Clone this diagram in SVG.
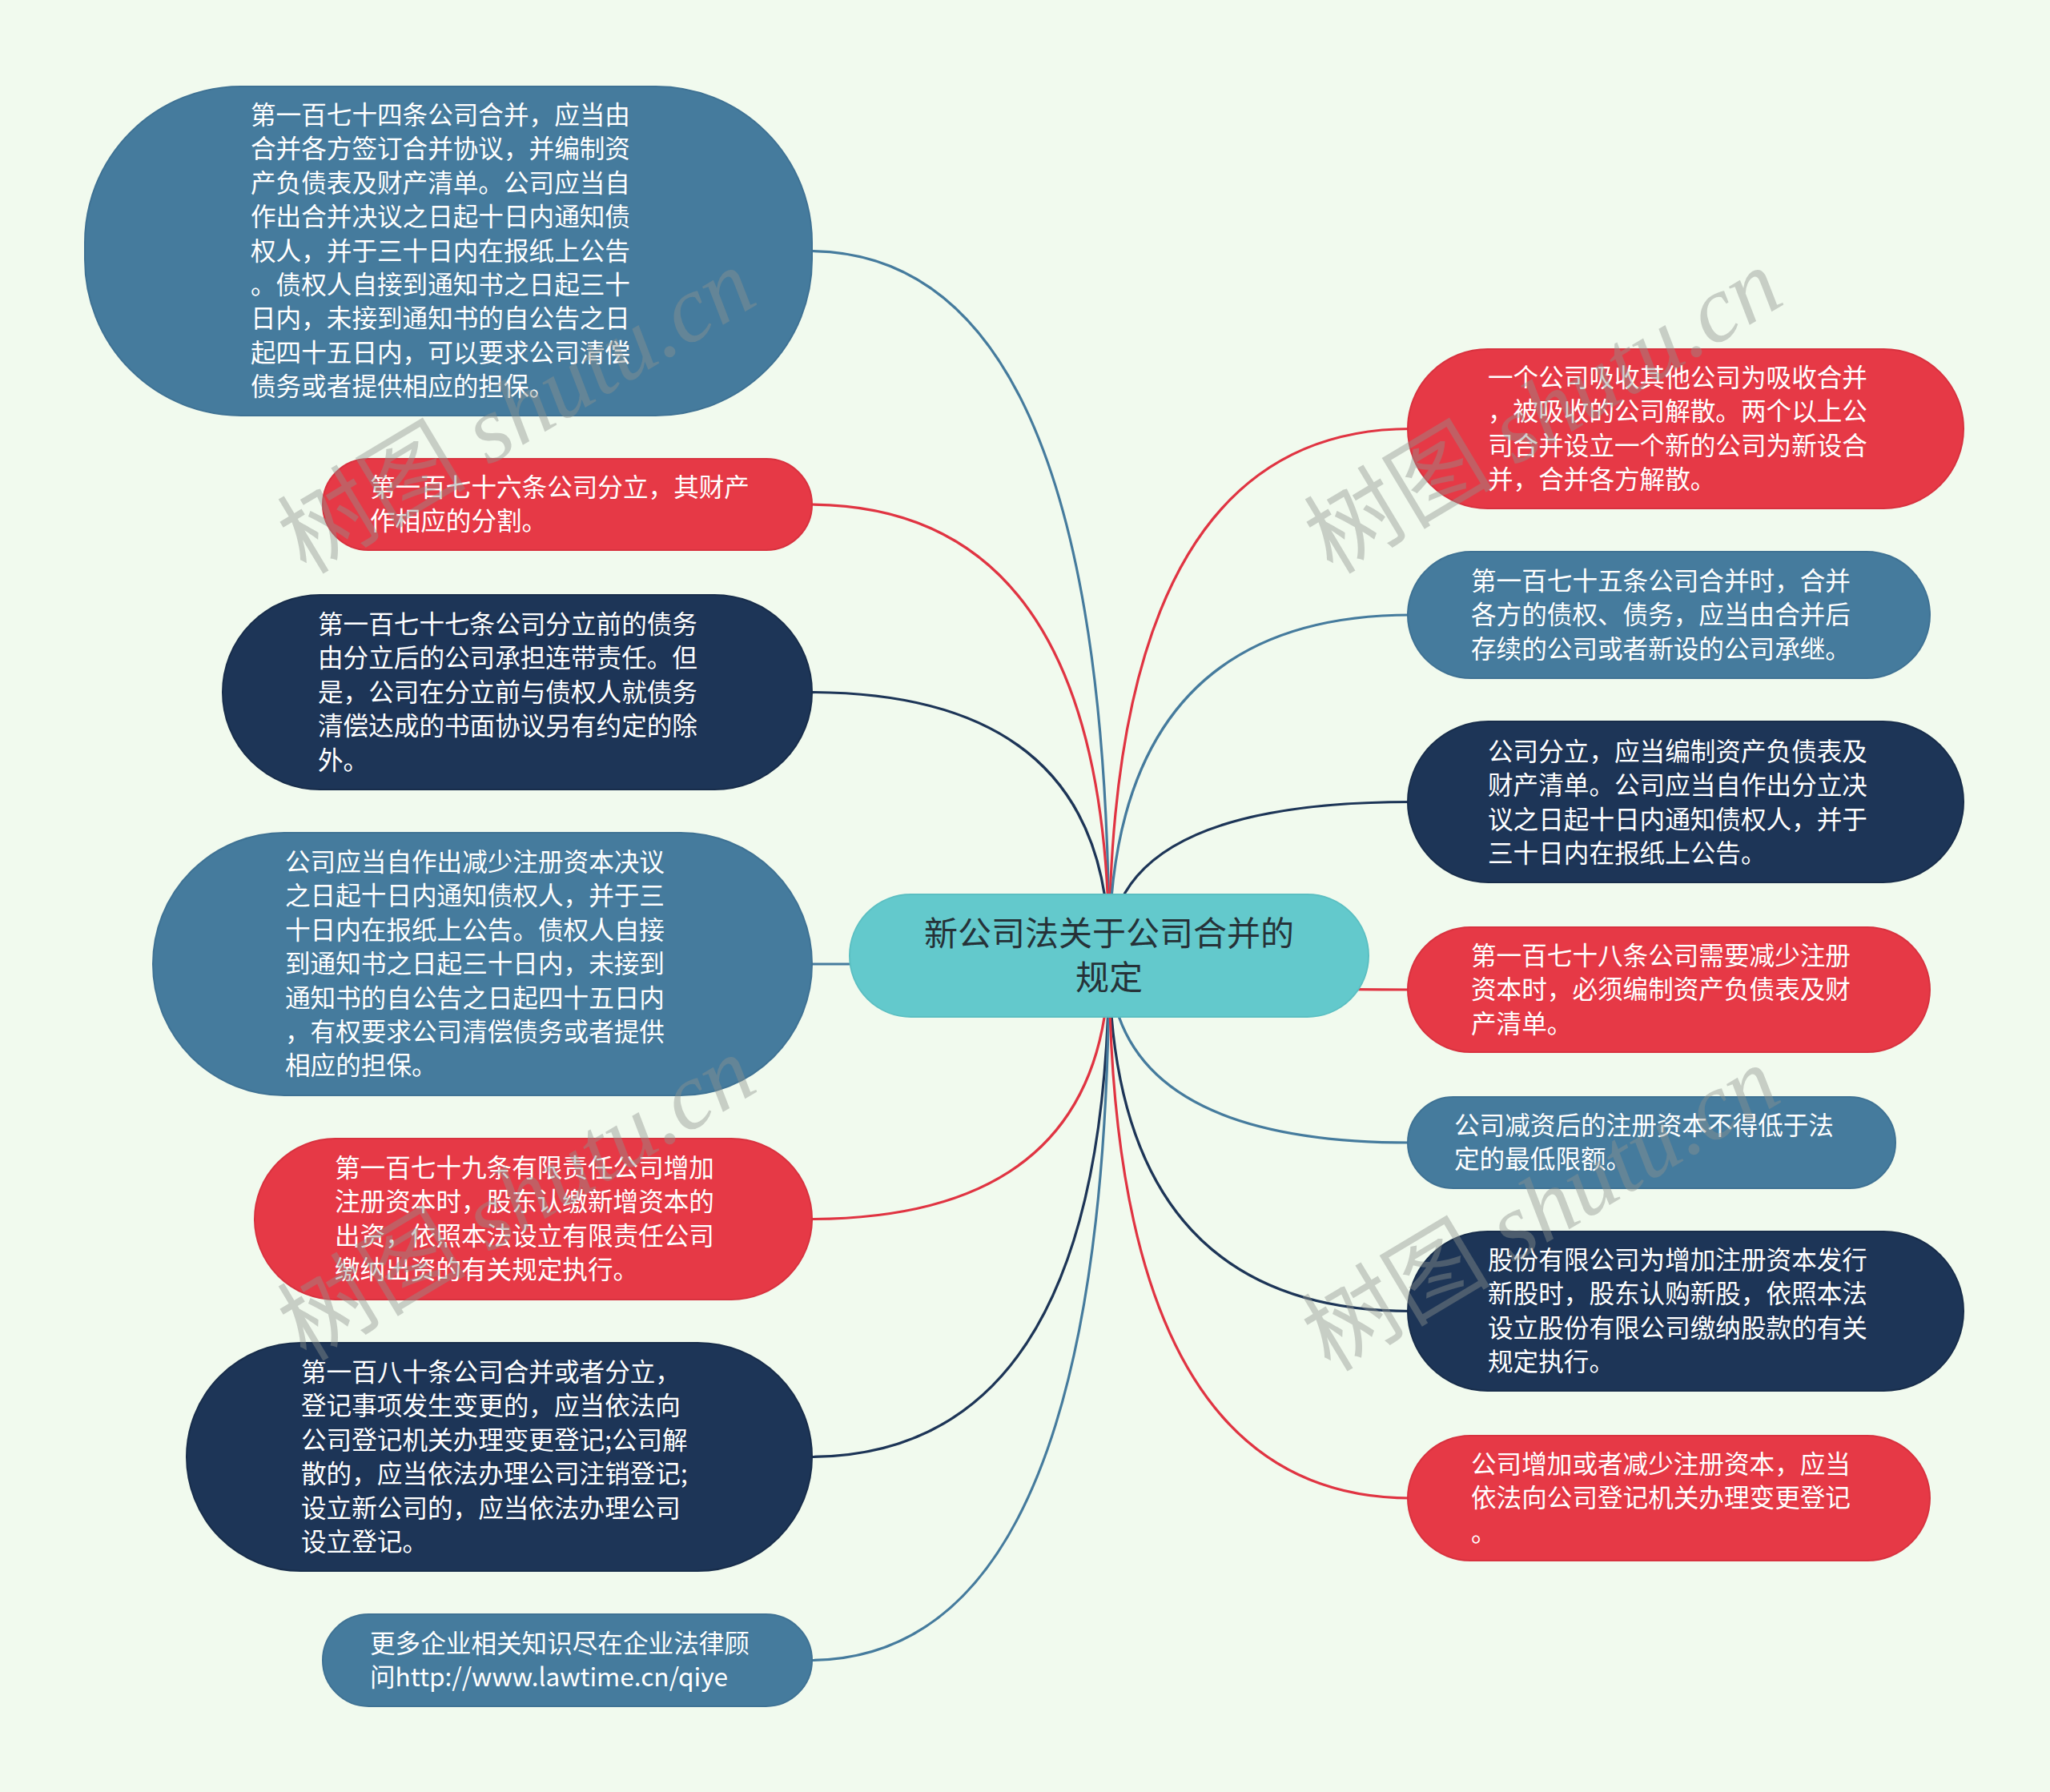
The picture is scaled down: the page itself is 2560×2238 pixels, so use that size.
<svg xmlns="http://www.w3.org/2000/svg" width="2560" height="2238" viewBox="0 0 2560 2238">
<style>
.bg{fill:#f1faee}
.red{fill:#e63946;stroke:#d8323f;stroke-width:2}
.blue{fill:#457b9d;stroke:#3f7294;stroke-width:2}
.navy{fill:#1d3557;stroke:#182d4b;stroke-width:2}
.root{fill:#63c9cc;stroke:#5bbfc2;stroke-width:2}
.t{font-family:"Noto Sans CJK SC","Noto Sans",sans-serif;font-size:31.6px;fill:#ffffff}
.rt{font-family:"Noto Sans CJK SC","Noto Sans",sans-serif;font-size:42px;fill:#263238;text-anchor:middle}
.c{fill:none;stroke-width:3.2}
.cr{stroke:#e03442}
.cb{stroke:#457b9d}
.cn{stroke:#1d3557}
.wm{font-family:"Liberation Serif","Noto Sans CJK SC",serif;font-size:118px;fill:#8f948f;opacity:0.42}
</style>
<rect class="bg" x="0" y="0" width="2560" height="2238"/>
<g id="connectors">
<path class="c cb" d="M1385 1193 Q1385 313.5 1010 313.5"/>
<path class="c cr" d="M1385 1193 Q1385 630 1010 630"/>
<path class="c cn" d="M1385 1193 Q1385 864.5 1010 864.5"/>
<path class="c cb" d="M1385 1193 Q1385 1204 1010 1204"/>
<path class="c cr" d="M1385 1193 Q1385 1522.5 1010 1522.5"/>
<path class="c cn" d="M1385 1193 Q1385 1819.5 1010 1819.5"/>
<path class="c cb" d="M1385 1193 Q1385 2073.5 1010 2073.5"/>
<path class="c cr" d="M1385 1193 Q1385 535.5 1762 535.5"/>
<path class="c cb" d="M1385 1193 Q1385 768 1762 768"/>
<path class="c cn" d="M1385 1193 Q1385 1001.5 1762 1001.5"/>
<path class="c cr" d="M1385 1193 Q1385 1236 1762 1236"/>
<path class="c cb" d="M1385 1193 Q1385 1427 1762 1427"/>
<path class="c cn" d="M1385 1193 Q1385 1637.5 1762 1637.5"/>
<path class="c cr" d="M1385 1193 Q1385 1871 1762 1871"/>
</g>
<g id="root">
<rect class="root" x="1061" y="1117" width="648" height="153" rx="76.5"/>
<text class="rt" x="1385" y="1181">新公司法关于公司合并的</text>
<text class="rt" x="1385" y="1236">规定</text>
</g>
<g id="nodeA">
<rect class="blue" x="106" y="108" width="908" height="411" rx="195"/>
<text class="t" x="313"><tspan x="313" y="155">第一百七十四条公司合并，应当由</tspan><tspan x="313" y="197.4">合并各方签订合并协议，并编制资</tspan><tspan x="313" y="239.8">产负债表及财产清单。公司应当自</tspan><tspan x="313" y="282.2">作出合并决议之日起十日内通知债</tspan><tspan x="313" y="324.6">权人，并于三十日内在报纸上公告</tspan><tspan x="313" y="367">。债权人自接到通知书之日起三十</tspan><tspan x="313" y="409.4">日内，未接到通知书的自公告之日</tspan><tspan x="313" y="451.8">起四十五日内，可以要求公司清偿</tspan><tspan x="313" y="494.2">债务或者提供相应的担保。</tspan></text>
</g>
<g id="nodeB">
<rect class="red" x="403" y="573" width="611" height="114" rx="57"/>
<text class="t"><tspan x="462" y="620">第一百七十六条公司分立，其财产</tspan><tspan x="462" y="662.4">作相应的分割。</tspan></text>
</g>
<g id="nodeC">
<rect class="navy" x="278" y="743" width="736" height="243" rx="121.5"/>
<text class="t"><tspan x="397" y="791">第一百七十七条公司分立前的债务</tspan><tspan x="397" y="833.4">由分立后的公司承担连带责任。但</tspan><tspan x="397" y="875.8">是，公司在分立前与债权人就债务</tspan><tspan x="397" y="918.2">清偿达成的书面协议另有约定的除</tspan><tspan x="397" y="960.6">外。</tspan></text>
</g>
<g id="nodeD">
<rect class="blue" x="191" y="1040" width="823" height="328" rx="164"/>
<text class="t"><tspan x="356" y="1088">公司应当自作出减少注册资本决议</tspan><tspan x="356" y="1130.4">之日起十日内通知债权人，并于三</tspan><tspan x="356" y="1172.8">十日内在报纸上公告。债权人自接</tspan><tspan x="356" y="1215.2">到通知书之日起三十日内，未接到</tspan><tspan x="356" y="1257.6">通知书的自公告之日起四十五日内</tspan><tspan x="356" y="1300">，有权要求公司清偿债务或者提供</tspan><tspan x="356" y="1342.4">相应的担保。</tspan></text>
</g>
<g id="nodeE">
<rect class="red" x="318" y="1422" width="696" height="201" rx="100.5"/>
<text class="t"><tspan x="418" y="1470">第一百七十九条有限责任公司增加</tspan><tspan x="418" y="1512.4">注册资本时，股东认缴新增资本的</tspan><tspan x="418" y="1554.8">出资，依照本法设立有限责任公司</tspan><tspan x="418" y="1597.2">缴纳出资的有关规定执行。</tspan></text>
</g>
<g id="nodeF">
<rect class="navy" x="233" y="1677" width="781" height="285" rx="142.5"/>
<text class="t"><tspan x="376" y="1725">第一百八十条公司合并或者分立，</tspan><tspan x="376" y="1767.4">登记事项发生变更的，应当依法向</tspan><tspan x="376" y="1809.8">公司登记机关办理变更登记;公司解</tspan><tspan x="376" y="1852.2">散的，应当依法办理公司注销登记;</tspan><tspan x="376" y="1894.6">设立新公司的，应当依法办理公司</tspan><tspan x="376" y="1937">设立登记。</tspan></text>
</g>
<g id="nodeG">
<rect class="blue" x="403" y="2016" width="611" height="115" rx="57.5"/>
<text class="t"><tspan x="462" y="2064">更多企业相关知识尽在企业法律顾</tspan><tspan x="462" y="2106.4">问http://www.lawtime.cn/qiye</tspan></text>
</g>
<g id="nodeR1">
<rect class="red" x="1758" y="436" width="694" height="199" rx="99.5"/>
<text class="t"><tspan x="1858" y="483">一个公司吸收其他公司为吸收合并</tspan><tspan x="1858" y="525.4">，被吸收的公司解散。两个以上公</tspan><tspan x="1858" y="567.8">司合并设立一个新的公司为新设合</tspan><tspan x="1858" y="610.2">并，合并各方解散。</tspan></text>
</g>
<g id="nodeR2">
<rect class="blue" x="1758" y="689" width="652" height="158" rx="79"/>
<text class="t"><tspan x="1837" y="737">第一百七十五条公司合并时，合并</tspan><tspan x="1837" y="779.4">各方的债权、债务，应当由合并后</tspan><tspan x="1837" y="821.8">存续的公司或者新设的公司承继。</tspan></text>
</g>
<g id="nodeR3">
<rect class="navy" x="1758" y="901" width="694" height="201" rx="100.5"/>
<text class="t"><tspan x="1858" y="950">公司分立，应当编制资产负债表及</tspan><tspan x="1858" y="992.4">财产清单。公司应当自作出分立决</tspan><tspan x="1858" y="1034.8">议之日起十日内通知债权人，并于</tspan><tspan x="1858" y="1077.2">三十日内在报纸上公告。</tspan></text>
</g>
<g id="nodeR4">
<rect class="red" x="1758" y="1158" width="652" height="156" rx="78"/>
<text class="t"><tspan x="1837" y="1205">第一百七十八条公司需要减少注册</tspan><tspan x="1837" y="1247.4">资本时，必须编制资产负债表及财</tspan><tspan x="1837" y="1289.8">产清单。</tspan></text>
</g>
<g id="nodeR5">
<rect class="blue" x="1758" y="1370" width="609" height="114" rx="57"/>
<text class="t"><tspan x="1816" y="1417">公司减资后的注册资本不得低于法</tspan><tspan x="1816" y="1459.4">定的最低限额。</tspan></text>
</g>
<g id="nodeR6">
<rect class="navy" x="1758" y="1538" width="694" height="199" rx="99.5"/>
<text class="t"><tspan x="1858" y="1585">股份有限公司为增加注册资本发行</tspan><tspan x="1858" y="1627.4">新股时，股东认购新股，依照本法</tspan><tspan x="1858" y="1669.8">设立股份有限公司缴纳股款的有关</tspan><tspan x="1858" y="1712.2">规定执行。</tspan></text>
</g>
<g id="nodeR7">
<rect class="red" x="1758" y="1793" width="652" height="156" rx="78"/>
<text class="t"><tspan x="1837" y="1840">公司增加或者减少注册资本，应当</tspan><tspan x="1837" y="1882.4">依法向公司登记机关办理变更登记</tspan><tspan x="1837" y="1924.8">。</tspan></text>
</g>
<g id="watermarks">
<text class="wm" text-anchor="middle" transform="translate(666 548) rotate(-31)">树图 <tspan font-style="italic">shutu.cn</tspan></text>
<text class="wm" text-anchor="middle" transform="translate(1948 548) rotate(-31)">树图 <tspan font-style="italic">shutu.cn</tspan></text>
<text class="wm" text-anchor="middle" transform="translate(666 1531) rotate(-31)">树图 <tspan font-style="italic">shutu.cn</tspan></text>
<text class="wm" text-anchor="middle" transform="translate(1945 1544) rotate(-31)">树图 <tspan font-style="italic">shutu.cn</tspan></text>
</g>
</svg>
